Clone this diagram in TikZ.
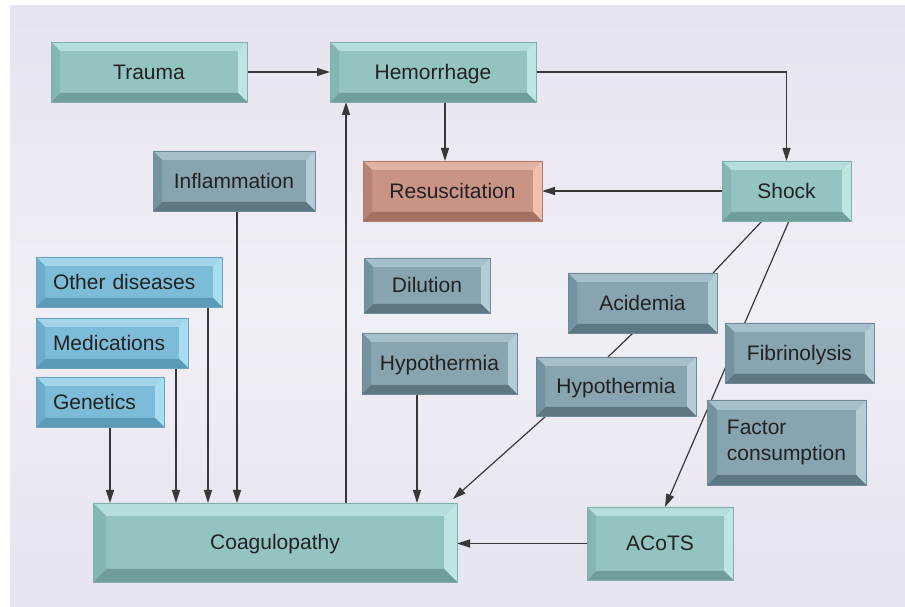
\documentclass[tikz,border=0pt]{standalone}
\usepackage{fontspec}
\setmainfont{Liberation Sans}
\usetikzlibrary{arrows.meta,calc}
\pgfdeclarelayer{bg}\pgfdeclarelayer{lines}
\pgfsetlayers{bg,lines,main}
\definecolor{txt}{HTML}{222222}
\definecolor{lin}{HTML}{383838}
\definecolor{panel}{HTML}{E7E3EF}
\definecolor{panelmid}{HTML}{F1EFF6}
% teal
\definecolor{tlface}{HTML}{94C4C1}\definecolor{tltop}{HTML}{B3DEDB}
\definecolor{tlright}{HTML}{BFE5E2}\definecolor{tlbot}{HTML}{6F9E9B}
\definecolor{tlleft}{HTML}{84B7B3}\definecolor{tledge}{HTML}{7FAFAC}
% slate
\definecolor{slface}{HTML}{87A4B0}\definecolor{sltop}{HTML}{A5C0CA}
\definecolor{slright}{HTML}{B3CCD5}\definecolor{slbot}{HTML}{5D7883}
\definecolor{slleft}{HTML}{7393A0}\definecolor{sledge}{HTML}{6D8A96}
% blue
\definecolor{blface}{HTML}{7DBCD8}\definecolor{bltop}{HTML}{A3D5EA}
\definecolor{blright}{HTML}{A8DCF1}\definecolor{blbot}{HTML}{5B9BB8}
\definecolor{blleft}{HTML}{6EADCA}\definecolor{bledge}{HTML}{6AA5C0}
% salmon
\definecolor{saface}{HTML}{C99486}\definecolor{satop}{HTML}{E0B2A4}
\definecolor{saright}{HTML}{EFC0B0}\definecolor{sabot}{HTML}{A56F62}
\definecolor{saleft}{HTML}{B68477}\definecolor{saedge}{HTML}{B07D70}
\newcommand\bxfont{\fontsize{21}{26}\selectfont}
\tikzset{
  bevel/.store in=\bvw, bevel=9pt,
  bev/.style={draw=#1edge, line width=0.4pt, fill=#1face, text=txt, font=\bxfont,
    inner sep=0pt, outer sep=0pt, text height=15pt, text depth=0pt,
    path picture={
      \fill[#1top] (path picture bounding box.north west) -- (path picture bounding box.north east)
        -- ([shift={(-\bvw,-\bvw)}]path picture bounding box.north east)
        -- ([shift={(\bvw,-\bvw)}]path picture bounding box.north west) -- cycle;
      \fill[#1right] (path picture bounding box.north east) -- (path picture bounding box.south east)
        -- ([shift={(-\bvw,\bvw)}]path picture bounding box.south east)
        -- ([shift={(-\bvw,-\bvw)}]path picture bounding box.north east) -- cycle;
      \fill[#1bot] (path picture bounding box.south east) -- (path picture bounding box.south west)
        -- ([shift={(\bvw,\bvw)}]path picture bounding box.south west)
        -- ([shift={(-\bvw,\bvw)}]path picture bounding box.south east) -- cycle;
      \fill[#1left] (path picture bounding box.south west) -- (path picture bounding box.north west)
        -- ([shift={(\bvw,-\bvw)}]path picture bounding box.north west)
        -- ([shift={(\bvw,\bvw)}]path picture bounding box.south west) -- cycle;
    }},
  conn/.style={draw=lin, line width=1.2pt},
  arr/.style={conn, -{Triangle[length=13pt,width=8pt]}}
}
% [opts]{name}{x1}{y1}{x2}{y2}{palette}{text}  (image pixel coords)
\newcommand\mybox[8][]{%
  \pgfmathsetmacro\bw{#5-#3}\pgfmathsetmacro\bh{#6-#4}%
  \pgfmathsetmacro\cx{(#3+#5)/2}\pgfmathsetmacro\cy{607-(#4+#6)/2}%
  \node[bev=#7, minimum width=\bw pt, minimum height=\bh pt, #1] (#2) at (\cx,\cy) {#8};}
\begin{document}
\begin{tikzpicture}[x=1pt,y=1pt]
\useasboundingbox (0,0) rectangle (905,607);
\begin{pgfonlayer}{bg}
  \fill[white] (0,0) rectangle (905,607);
  \shade[top color=panel, bottom color=panel, middle color=panelmid] (10,0) rectangle (905,601);
\end{pgfonlayer}

\mybox{trauma}{51}{42}{247}{102}{tl}{Trauma}
\mybox{hem}{330}{42}{536}{102}{tl}{Hemorrhage}
\mybox{resus}{363}{161}{542}{221}{sa}{Resuscitation}
\mybox{shock}{722}{161}{851}{221}{tl}{Shock}
\mybox{infl}{153}{151}{315}{211}{sl}{Inflammation}
\mybox[text width=152pt, inner xsep=17pt, align=left]{other}{36}{257}{222}{307}{bl}{Other diseases}
\mybox[text width=118pt, inner xsep=17pt, align=left]{med}{36}{318}{188}{368}{bl}{Medications}
\mybox[text width=94pt, inner xsep=17pt, align=left]{gen}{36}{377}{164}{427}{bl}{Genetics}
\mybox{dil}{364}{258}{490}{313}{sl}{Dilution}
\mybox{hypo}{362}{333}{517}{394}{sl}{Hypothermia}
\mybox{acid}{568}{273}{717}{333}{sl}{Acidemia}
\mybox{hypob}{536}{357}{696}{416}{sl}{Hypothermia}
\mybox{fib}{725}{323}{874}{383}{sl}{Fibrinolysis}
\mybox[align=left, bevel=10pt, text height={}, text depth={}]{factor}{707}{400}{866}{485}{sl}{Factor\\consumption}
\mybox[bevel=13pt]{coag}{93}{503}{457}{582}{tl}{Coagulopathy}
\mybox{acots}{587}{507}{733}{580}{tl}{ACoTS}

\begin{pgfonlayer}{lines}
  \draw[arr] (trauma) -- (hem);
  \draw[arr] (hem.east) -| (shock.north);
  \draw[arr] ([xshift=12pt]hem.south) -- ([xshift=12pt]hem.south |- resus.north);
  \draw[arr] (shock.west) -- (resus.east);
  \draw[arr] ([xshift=16pt]hem.south west |- coag.north) -- ([xshift=16pt]hem.south west);
  \draw[arr] ([xshift=3pt]infl.south) -- ([xshift=3pt]infl.south |- coag.north);
  \draw[arr] ([xshift=-14pt]other.south east) -- ([xshift=-14pt]other.south east |- coag.north);
  \draw[arr] ([xshift=-12pt]med.south east) -- ([xshift=-12pt]med.south east |- coag.north);
  \draw[arr] ([xshift=10pt]gen.south) -- ([xshift=10pt]gen.south |- coag.north);
  \draw[arr] ([xshift=55pt]hypo.south west) -- ([xshift=55pt]hypo.south west |- coag.north);
  \draw[conn] ([xshift=40pt]shock.south west) -- ([xshift=-4pt]acid.north east);
  \draw[conn] ([xshift=-9.5pt]acid.south) -- ([xshift=-8pt]hypob.north);
  \draw[arr] ([xshift=10pt]hypob.south west) -- ([shift={(-4pt,4pt)}]coag.north east);
  \draw[arr] ([xshift=2.5pt]shock.south) -- ([xshift=5pt]acots.north);
  \draw[arr] (acots.west) -- (acots.west -| coag.east);
\end{pgfonlayer}
\end{tikzpicture}
\end{document}
